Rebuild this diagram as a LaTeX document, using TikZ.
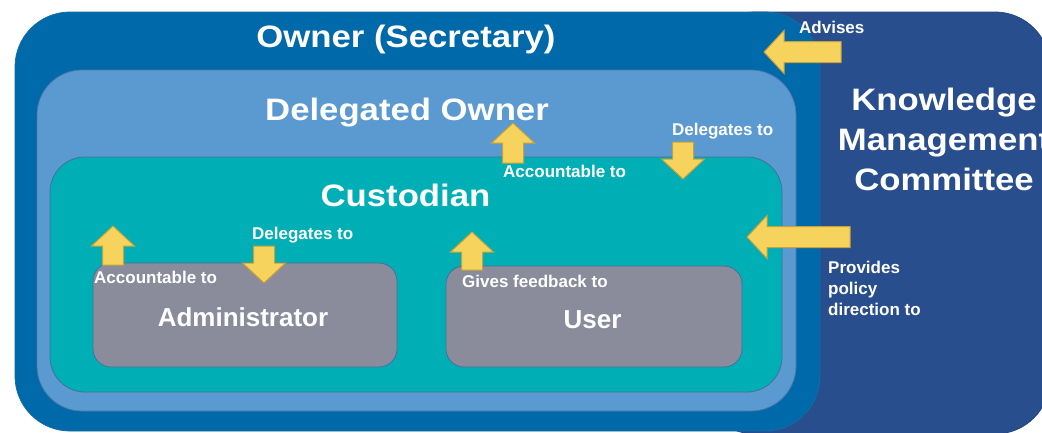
\documentclass[tikz,border=0pt]{standalone}
\usepackage{fontspec}
\setmainfont{Liberation Sans}
\newfontfamily\titlefont{Liberation Sans}[FakeStretch=1.12]

\definecolor{kmcblue}{HTML}{284E8E}
\definecolor{ownerblue}{HTML}{0069AA}
\definecolor{delblue}{HTML}{5B99D1}
\definecolor{custteal}{HTML}{00AFB5}
\definecolor{rolegray}{HTML}{8A8C9C}
\definecolor{arrowgold}{HTML}{F6D35C}
\definecolor{arrowedge}{HTML}{C7A13A}
\definecolor{edgeblue}{HTML}{42719B}

% gold block arrow: tip at (#1,#2), pointing in direction #3, overall length #4
\newcommand\goldarrow[4]{%
  \begin{scope}[shift={(#1,#2)}, rotate=#3]
    \draw[blockarrow] (0,0) -- (-20,21.5) -- (-20,10.5) -- (-#4,10.5)
      -- (-#4,-10.5) -- (-20,-10.5) -- (-20,-21.5) -- cycle;
  \end{scope}}

\begin{document}
\begin{tikzpicture}[x=1pt, y=-1pt,
  panel/.style={rectangle, inner sep=0pt, draw=#1, line width=0.8pt},
  title/.style={text=white, inner sep=0pt, font=\titlefont\bfseries\fontsize{31}{37}\selectfont},
  role/.style={text=white, inner sep=0pt, font=\bfseries\fontsize{26}{31}\selectfont},
  note/.style={text=white, inner sep=0pt, font=\bfseries\fontsize{17}{21}\selectfont},
  blockarrow/.style={fill=arrowgold, draw=arrowedge, line width=1pt, line join=miter}]

\useasboundingbox (0,0) rectangle (1042,432);
\clip (0,0) rectangle (1042,432);
\fill[white] (0,0) rectangle (1042,432);

% nested responsibility panels
\node[panel=kmcblue!90!black, fill=kmcblue, rounded corners=55pt,
      minimum width=350, minimum height=422] (kmc) at (875,223) {};
\node[panel=ownerblue!85!gray, fill=ownerblue, rounded corners=55pt,
      minimum width=805, minimum height=419] (owner) at (417.5,221.5) {};
\node[panel=edgeblue!80!delblue, fill=delblue, rounded corners=45pt,
      minimum width=759, minimum height=341] (deleg) at (416.5,240.5) {};
\node[panel=edgeblue, fill=custteal, rounded corners=35pt,
      minimum width=732, minimum height=235] (cust) at (416,274.5) {};
\node[panel=edgeblue, fill=rolegray, rounded corners=18pt,
      minimum width=304, minimum height=104] (admin) at (245,315) {};
\node[panel=edgeblue, fill=rolegray, rounded corners=18pt,
      minimum width=296, minimum height=101] (user) at (594,316.5) {};

% panel titles
\node[title, anchor=base] (ownerT) at (406,47) {Owner (Secretary)};
\node[title, anchor=base] (delegT) at (407,120) {Delegated Owner};
\node[title, anchor=base] (custT) at (405.5,206) {Custodian};
\node[title, anchor=base] (kmcT1) at (944,110) {Knowledge};
\node[title, anchor=base] (kmcT2) at (944,150) {Management};
\node[title, anchor=base] (kmcT3) at (944,190) {Committee};
\node[role, anchor=base] (adminT) at (243,326) {Administrator};
\node[role, anchor=base] (userT) at (592.5,328) {User};

% relationship arrows
\goldarrow{764}{52}{180}{77}
\goldarrow{747}{237}{180}{103}
\goldarrow{513}{123}{90}{40}
\goldarrow{683}{179}{-90}{37}
\goldarrow{113}{226}{90}{39}
\goldarrow{264}{283}{-90}{37}
\goldarrow{472}{232}{90}{38}

% relationship labels
\node[note, anchor=base west] (advT) at (799,33) {Advises};
\node[note, anchor=base west] (del1T) at (672,135) {Delegates to};
\node[note, anchor=base west] (acc1T) at (503,177) {Accountable to};
\node[note, anchor=base west] (del2T) at (252,239) {Delegates to};
\node[note, anchor=base west] (acc2T) at (94,283) {Accountable to};
\node[note, anchor=base west] (fbT) at (462,287) {Gives feedback to};
\node[note, anchor=base west] (pol1T) at (828,273) {Provides};
\node[note, anchor=base west] (pol2T) at (828,294) {policy};
\node[note, anchor=base west] (pol3T) at (828,315) {direction to};

\end{tikzpicture}
\end{document}
